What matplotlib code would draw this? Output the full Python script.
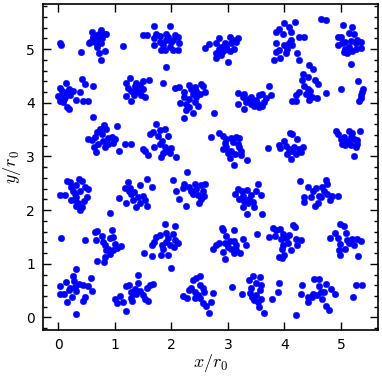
import matplotlib
matplotlib.use('Agg')
import matplotlib.pyplot as plt
from matplotlib.ticker import MultipleLocator
import numpy as np

# particle positions (x/r0, y/r0), grouped by lattice row
row_1 = [
    (0.02, 5.12), (0.04, 5.07), (0.40, 4.94), (1.15, 5.06),
    (0.59, 5.32), (0.56, 5.14), (0.62, 5.20), (0.68, 5.26), (0.71, 5.11), (0.76, 5.35),
    (0.79, 5.29), (0.82, 5.29), (0.73, 5.17), (0.68, 5.04), (0.65, 5.14), (0.71, 4.92),
    (0.75, 4.80), (0.82, 4.97), (0.61, 5.23), (0.78, 5.20), (0.85, 5.28), (0.55, 5.12),
    (0.72, 5.29), (0.76, 5.11), (0.68, 5.18),
    (1.49, 5.27), (1.56, 5.26), (1.69, 5.44), (1.97, 5.44), (1.73, 5.29), (1.70, 5.20),
    (1.70, 5.07), (1.79, 5.14), (1.82, 4.98), (1.88, 4.98), (1.91, 5.29), (1.94, 5.23),
    (2.00, 5.14), (1.97, 5.04), (2.06, 5.26), (2.11, 5.23), (2.14, 5.12), (2.11, 4.98),
    (2.02, 4.98), (1.90, 5.18), (1.85, 5.07), (1.79, 5.25), (2.03, 5.18), (1.91, 4.67),
    (2.59, 5.03), (2.66, 5.09), (2.79, 5.11), (2.85, 5.20), (2.88, 5.04), (2.94, 5.11),
    (2.79, 4.92), (2.79, 4.84), (2.88, 4.89), (2.96, 5.00), (3.00, 4.76), (3.03, 5.23),
    (3.06, 5.11), (3.09, 5.18), (3.14, 5.13), (3.11, 5.00), (3.03, 4.97), (2.97, 5.04),
    (3.17, 5.20), (2.91, 4.97), (2.85, 5.00),
    (3.85, 5.32), (3.91, 5.38), (4.00, 5.48), (4.11, 5.32), (4.18, 5.51), (4.08, 5.41),
    (3.85, 5.11), (3.91, 4.98), (3.85, 4.95), (3.82, 4.80), (3.92, 4.84), (4.02, 4.92),
    (4.08, 5.11), (4.11, 5.17), (4.05, 5.01), (4.26, 5.23), (4.35, 5.23), (4.23, 4.92),
    (4.26, 4.80), (4.44, 4.70), (4.51, 4.64), (4.00, 5.07), (4.14, 5.07), (3.97, 5.29),
    (4.64, 5.57), (4.73, 5.54),
    (5.04, 5.45), (5.20, 5.42), (5.14, 5.31), (5.23, 5.29), (4.94, 5.23), (5.00, 5.22),
    (5.02, 5.11), (4.94, 5.08), (5.08, 5.14), (5.14, 5.04), (5.17, 5.16), (5.29, 5.18),
    (5.35, 5.14), (5.35, 5.03), (5.26, 5.00), (5.20, 4.97), (5.11, 4.92), (5.05, 4.95),
    (5.17, 4.73), (5.08, 5.01), (5.26, 5.11),
]

row_2 = [
    (0.02, 4.27), (0.00, 4.13), (0.03, 4.04), (0.08, 4.17), (0.09, 4.01), (0.14, 4.37),
    (0.15, 4.20), (0.18, 4.26), (0.21, 4.14), (0.12, 4.11), (0.26, 4.23), (0.16, 3.92),
    (0.19, 3.88), (0.32, 4.06), (0.38, 4.20), (0.42, 4.44), (0.47, 4.36), (0.44, 4.03),
    (0.52, 4.03), (0.62, 4.32), (0.61, 3.73), (0.06, 4.23), (0.10, 4.08),
    (1.20, 4.37), (1.27, 4.46), (1.23, 4.27), (1.29, 4.23), (1.38, 4.37), (1.44, 4.33),
    (1.50, 4.40), (1.60, 4.42), (1.38, 4.26), (1.43, 4.20), (1.47, 4.14), (1.50, 4.26),
    (1.34, 4.14), (1.29, 4.04), (1.20, 4.13), (1.53, 4.11), (1.36, 4.31), (1.85, 4.37),
    (2.07, 4.28), (2.14, 4.29), (2.23, 4.20), (2.32, 4.34), (2.35, 4.26), (2.41, 4.29),
    (2.44, 4.23), (2.53, 4.35), (2.56, 4.31), (2.50, 4.17), (2.59, 4.20), (2.23, 4.11),
    (2.26, 3.98), (2.32, 4.08), (2.38, 4.17), (2.41, 4.01), (2.47, 3.95), (2.32, 3.92),
    (2.38, 3.82), (2.26, 3.86), (2.23, 3.72), (2.16, 4.00), (2.76, 3.82), (2.44, 4.11),
    (3.17, 4.19), (3.17, 3.98), (3.26, 4.11), (3.29, 4.16), (3.32, 4.02), (3.29, 3.89),
    (3.36, 4.07), (3.41, 4.11), (3.45, 4.02), (3.50, 4.06), (3.53, 3.98), (3.47, 3.95),
    (3.55, 4.14), (3.60, 4.17), (3.61, 3.95), (3.64, 4.02), (3.67, 4.09), (3.76, 4.14),
    (3.73, 4.32), (3.41, 3.97), (3.55, 3.92),
    (4.33, 4.54), (4.41, 4.48), (4.32, 4.42), (4.55, 4.42), (4.60, 4.36), (4.35, 4.32),
    (4.41, 4.26), (4.46, 4.23), (4.38, 4.17), (4.44, 4.14), (4.49, 4.11), (4.20, 4.15),
    (4.26, 4.20), (4.14, 4.03), (4.20, 4.03), (4.44, 4.06), (4.58, 4.09), (4.73, 4.19),
    (5.01, 4.26),
    (5.31, 4.40), (5.38, 4.21), (5.36, 4.15), (5.35, 4.09), (5.32, 4.03), (5.39, 4.26),
]

row_3 = [
    (0.53, 3.33), (0.59, 3.31), (0.65, 3.36), (0.68, 3.45), (0.73, 3.51), (0.80, 3.59),
    (0.84, 3.51), (0.78, 3.42), (0.70, 3.23), (0.63, 3.17), (0.66, 3.08), (0.79, 3.29),
    (0.88, 3.34), (0.94, 3.36), (1.00, 3.33), (0.88, 3.23), (0.82, 3.17), (0.97, 3.26),
    (1.04, 3.57), (1.08, 3.10), (1.18, 3.23), (1.29, 3.24),
    (1.49, 3.14), (1.53, 3.10), (1.59, 3.03), (1.62, 3.42), (1.67, 3.45), (1.73, 3.60),
    (1.79, 3.49), (1.88, 3.52), (1.94, 3.38), (1.76, 3.38), (1.70, 3.17), (1.79, 3.23),
    (1.84, 3.29), (1.88, 3.17), (1.91, 3.11), (1.97, 3.06), (1.82, 2.99), (1.86, 3.07),
    (2.09, 2.99), (2.00, 3.15),
    (2.70, 3.37), (2.85, 3.43), (2.91, 3.39), (2.97, 3.32), (2.94, 3.26), (3.06, 3.34),
    (3.14, 3.36), (3.20, 3.34), (3.09, 3.27), (3.17, 3.23), (3.20, 3.17), (2.91, 3.14),
    (2.97, 3.17), (3.06, 3.11), (3.12, 3.05), (3.03, 2.98), (3.11, 2.85), (3.23, 3.02),
    (3.33, 2.93), (3.23, 3.10), (3.00, 3.06),
    (3.71, 3.15), (3.90, 3.21), (3.92, 3.16), (4.00, 3.29), (4.10, 3.43), (4.13, 3.41),
    (4.23, 3.32), (4.02, 3.20), (4.08, 3.14), (4.05, 3.05), (4.11, 2.95), (4.17, 3.17),
    (4.26, 3.14), (4.29, 3.08), (4.20, 3.05), (4.14, 3.11), (4.33, 3.17),
    (4.92, 3.47), (4.94, 3.41), (5.00, 3.33), (5.05, 3.37), (5.11, 3.29), (5.14, 3.48),
    (5.20, 3.43), (5.17, 3.37), (5.23, 3.33), (5.29, 3.31), (5.33, 3.47), (5.08, 3.21),
    (5.17, 3.21), (5.26, 3.17), (5.29, 3.23), (5.23, 3.00), (5.02, 3.24), (5.14, 3.26),
]

row_4 = [
    (0.03, 2.28), (0.12, 2.28), (0.16, 2.54), (0.21, 2.52), (0.23, 2.43), (0.26, 2.35),
    (0.32, 2.46), (0.36, 2.58), (0.41, 2.55), (0.38, 2.36), (0.32, 2.24), (0.29, 2.18),
    (0.23, 2.18), (0.35, 2.13), (0.41, 2.05), (0.39, 2.00), (0.47, 2.44), (0.53, 2.40),
    (0.50, 2.25), (0.45, 2.17), (0.31, 2.08), (0.29, 2.31),
    (0.92, 1.94), (1.08, 2.23), (1.19, 2.13), (1.23, 2.52), (1.17, 2.41), (1.25, 2.36),
    (1.29, 2.30), (1.33, 2.33), (1.32, 2.19), (1.37, 2.05), (1.45, 2.46), (1.50, 2.27),
    (1.56, 2.58), (1.66, 2.44), (1.53, 2.19), (1.57, 2.08), (1.44, 2.13), (1.26, 2.41),
    (1.41, 2.24),
    (2.27, 2.72), (2.02, 2.56), (2.09, 2.36), (2.13, 2.21), (2.20, 2.41), (2.23, 2.48),
    (2.26, 2.07), (2.31, 2.44), (2.35, 2.35), (2.41, 2.48), (2.44, 2.40), (2.47, 2.29),
    (2.48, 2.13), (2.53, 2.46), (2.56, 2.36), (2.60, 2.48), (2.58, 2.27), (2.53, 2.21),
    (2.38, 2.30),
    (3.13, 2.30), (3.17, 2.40), (3.20, 2.21), (3.25, 2.35), (3.27, 2.27), (3.33, 2.37),
    (3.38, 2.21), (3.41, 2.28), (3.44, 2.16), (3.35, 2.14), (3.26, 2.06), (3.33, 1.93),
    (3.47, 2.05), (3.60, 1.93), (3.50, 2.36), (3.53, 2.48), (3.58, 2.29), (3.29, 2.17),
    (4.28, 2.54), (4.35, 2.24), (4.35, 2.15), (4.42, 2.43), (4.51, 2.36), (4.54, 2.08),
    (4.60, 2.13), (4.56, 2.41), (4.61, 2.27), (4.67, 2.44), (4.73, 2.56), (4.76, 2.49),
    (4.70, 2.35), (4.76, 2.30), (4.80, 2.19), (4.85, 2.27), (4.95, 2.27), (4.64, 2.24),
    (4.47, 2.24),
]

row_5 = [
    (0.05, 1.48), (0.47, 1.45),
    (0.65, 1.59), (0.69, 1.61), (0.66, 1.44), (0.78, 1.52), (0.79, 1.41), (0.82, 1.35),
    (0.85, 1.25), (0.82, 1.13), (0.81, 1.04), (0.68, 1.05), (0.91, 1.48), (0.94, 1.63),
    (0.97, 1.50), (1.00, 1.36), (0.97, 1.25), (0.91, 1.19), (1.03, 1.29), (1.10, 1.33),
    (0.88, 1.28),
    (1.51, 1.21), (1.65, 1.15), (1.66, 1.35), (1.70, 1.40), (1.73, 1.50), (1.79, 1.53),
    (1.84, 1.35), (1.82, 1.17), (1.88, 1.75), (1.91, 1.57), (1.94, 1.48), (1.90, 1.41),
    (1.97, 1.35), (1.94, 1.17), (2.03, 1.56), (2.06, 1.71), (2.07, 1.44), (2.12, 1.38),
    (2.04, 1.31), (1.85, 1.28), (1.99, 0.92),
    (2.74, 1.28), (2.79, 1.35), (2.84, 1.38), (2.89, 1.67), (2.91, 1.63), (2.97, 1.52),
    (2.94, 1.38), (2.91, 1.22), (2.95, 1.09), (3.00, 1.31), (3.03, 1.43), (3.06, 1.28),
    (3.10, 1.63), (3.11, 1.43), (3.14, 1.35), (3.11, 1.21), (3.21, 1.21), (3.27, 1.47),
    (3.32, 1.35), (3.14, 1.25), (3.51, 1.55),
    (3.73, 1.50), (3.79, 1.66), (3.85, 1.63), (3.92, 1.64), (3.84, 1.52), (3.94, 1.47),
    (3.98, 1.56), (4.03, 1.48), (3.97, 1.35), (3.96, 1.27), (4.00, 1.17), (3.90, 1.13),
    (3.96, 1.10), (4.07, 1.38), (4.11, 1.25), (4.15, 1.73), (4.18, 1.69), (4.20, 1.47),
    (4.23, 1.35), (4.29, 1.44), (4.08, 1.53),
    (4.81, 1.48), (4.89, 1.58), (4.95, 1.48), (4.99, 1.75), (5.05, 1.71), (5.09, 1.58),
    (4.99, 1.36), (4.96, 1.25), (4.99, 1.17), (5.08, 1.28), (5.14, 1.38), (5.20, 1.47),
    (5.23, 1.35), (5.29, 1.47), (5.35, 1.42), (5.30, 1.15), (5.11, 1.44),
]

row_6 = [
    (0.31, 0.90), (0.02, 0.59), (0.03, 0.43), (0.10, 0.43), (0.13, 0.66), (0.15, 0.28),
    (0.21, 0.55), (0.26, 0.78), (0.24, 0.38), (0.28, 0.68), (0.29, 0.57), (0.32, 0.49),
    (0.32, 0.07), (0.37, 0.63), (0.44, 0.60), (0.47, 0.38), (0.44, 0.30), (0.53, 0.59),
    (0.57, 0.74), (0.59, 0.49), (0.18, 0.51),
    (1.00, 0.35), (1.04, 0.26), (1.09, 0.40), (1.15, 0.28), (1.20, 0.12), (1.19, 0.59),
    (1.25, 0.61), (1.28, 0.47), (1.29, 0.37), (1.30, 0.30), (1.35, 0.53), (1.38, 0.43),
    (1.41, 0.80), (1.41, 0.65), (1.45, 0.49), (1.50, 0.42), (1.56, 0.54), (1.59, 0.30),
    (1.62, 0.61), (1.67, 0.63), (1.53, 0.35), (1.32, 0.48),
    (2.20, 0.40), (2.27, 0.37), (2.31, 0.51), (2.35, 0.55), (2.39, 0.69), (2.44, 0.74),
    (2.51, 0.78), (2.42, 0.48), (2.47, 0.42), (2.50, 0.37), (2.56, 0.55), (2.58, 0.47),
    (2.56, 0.26), (2.61, 0.22), (2.67, 0.09), (2.70, 0.29), (2.73, 0.45), (2.50, 0.60),
    (2.41, 0.37),
    (3.07, 0.57), (3.25, 0.43), (3.37, 0.69), (3.44, 0.78), (3.56, 0.76), (3.50, 0.65),
    (3.58, 0.60), (3.41, 0.54), (3.39, 0.45), (3.43, 0.38), (3.50, 0.42), (3.47, 0.32),
    (3.53, 0.28), (3.58, 0.34), (3.55, 0.20), (3.63, 0.09), (3.78, 0.35), (3.88, 0.47),
    (3.91, 0.65), (3.56, 0.51),
    (4.21, 0.04), (4.29, 0.43), (4.31, 0.61), (4.41, 0.38), (4.42, 0.29), (4.49, 0.38),
    (4.52, 0.71), (4.61, 0.71), (4.61, 0.59), (4.58, 0.42), (4.64, 0.47), (4.67, 0.35),
    (4.73, 0.63), (4.74, 0.22), (4.79, 0.14), (4.83, 0.53), (4.89, 0.43), (4.70, 0.48),
    (4.50, 0.43),
    (5.21, 0.38), (5.27, 0.60), (5.38, 0.60),
]

plt.rcParams['mathtext.fontset'] = 'cm'

pts = np.array(row_1 + row_2 + row_3 + row_4 + row_5 + row_6)

fig = plt.figure(figsize=(3.82, 3.79), dpi=100)
ax = fig.add_axes([0.113, 0.129, 0.877, 0.861])

ax.scatter(pts[:, 0], pts[:, 1], s=22, c='#0000ff', edgecolors='#0000ff', linewidths=0.3)

ax.set_xlabel(r'$x/r_0$', fontsize=13, labelpad=0)
ax.set_ylabel(r'$y/r_0$', fontsize=13, labelpad=2)

ax.xaxis.set_major_locator(MultipleLocator(1))
ax.yaxis.set_major_locator(MultipleLocator(1))
ax.yaxis.set_minor_locator(MultipleLocator(0.2))
ax.tick_params(which='both', direction='in', top=True, right=True, labelsize=10, pad=6)
ax.tick_params(which='major', length=6, width=1)
ax.tick_params(which='minor', length=3, width=1)
for sp in ax.spines.values():
    sp.set_linewidth(1.2)

fig.savefig('out.png', dpi=100)
